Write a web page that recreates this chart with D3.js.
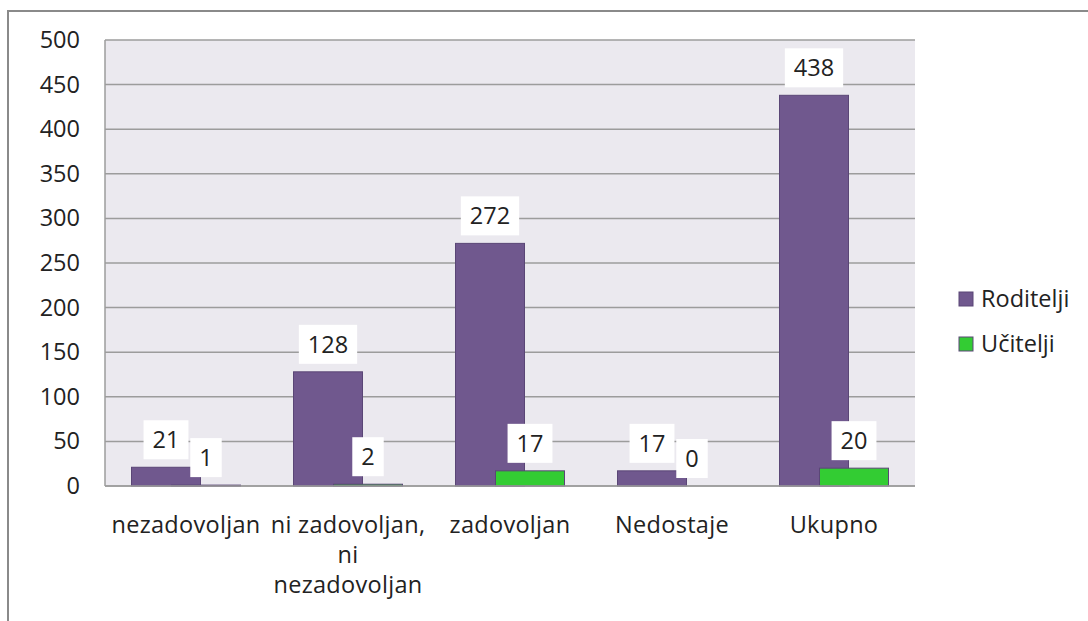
<!DOCTYPE HTML>
<html lang="hr">
    <head>
        <meta charset="UTF-8">
        <style>
            body { margin: 0; background: #fff; }
            text { font-family: "Open Sans", sans-serif; font-size: 23.5px; fill: #222; }
            .grid line { stroke: #9c9c9c; stroke-width: 1.5; }
            .axis path, .axis line { display: none; }
        </style>
    </head>
    <body>
        <script src="https://d3js.org/d3.v7.min.js"></script>
        <script>
            var categories = ['nezadovoljan', 'ni zadovoljan, ni nezadovoljan', 'zadovoljan', 'Nedostaje', 'Ukupno'];
            var catLines = [['nezadovoljan'], ['ni zadovoljan,', 'ni', 'nezadovoljan'], ['zadovoljan'], ['Nedostaje'], ['Ukupno']];
            var series = ['Roditelji', 'Učitelji'];
            var roditelji = [21, 128, 272, 17, 438];
            var ucitelji = [1, 2, 17, 0, 20];
            var yTicks = [0, 50, 100, 150, 200, 250, 300, 350, 400, 450, 500];
            var fills = ['#70588e', '#33cc33'];
            var barStroke = '#5a4676';

            var W = 1088, H = 621;
            var plotL = 105, plotR = 915, plotT = 40, plotB = 486;

            var svg = d3.select('body').append('svg').attr('width', W).attr('height', H);

            // outer frame (top + left only)
            svg.append('path')
                .attr('d', 'M8,' + H + 'V11H' + W)
                .attr('fill', 'none').attr('stroke', '#8a8a8a').attr('stroke-width', 2);

            var x = d3.scaleBand().domain(categories).range([plotL, plotR]);
            var y = d3.scaleLinear().domain([0, 500]).range([plotB, plotT]);
            var off = d3.scalePoint().domain(series).range([-20, 20]);
            var barW = 69;

            svg.append('rect')
                .attr('x', plotL).attr('y', plotT)
                .attr('width', plotR - plotL).attr('height', plotB - plotT)
                .attr('fill', '#ebe9ef');

            svg.append('g').attr('class', 'grid')
                .selectAll('line').data(yTicks).enter()
                .append('line')
                    .attr('x1', plotL).attr('x2', plotR)
                    .attr('y1', function(d){ return y(d) }).attr('y2', function(d){ return y(d) });

            svg.append('line')
                .attr('x1', plotL).attr('x2', plotL).attr('y1', plotT).attr('y2', plotB)
                .attr('stroke', '#9c9c9c').attr('stroke-width', 1.5);

            var yAxis = svg.append('g').attr('class', 'axis')
                .attr('transform', 'translate(' + (plotL - 13) + ',0)')
                .call(d3.axisLeft(y).tickValues(yTicks).tickSize(0).tickPadding(12));
            yAxis.attr('font-family', null).attr('font-size', null);
            yAxis.selectAll('text').attr('fill', '#222');

            var rows = [];
            categories.forEach(function(c, i){
                rows.push({ cat: c, s: 0, v: roditelji[i] });
                rows.push({ cat: c, s: 1, v: ucitelji[i] });
            });

            function cx(d){ return x(d.cat) + x.bandwidth() / 2 + off(series[d.s]); }

            svg.append('g').selectAll('rect')
                .data(rows).enter()
                .append('rect')
                    .attr('x', function(d){ return cx(d) - barW / 2 })
                    .attr('y', function(d){ return y(d.v) })
                    .attr('width', barW)
                    .attr('height', function(d){ return plotB - y(d.v) })
                    .attr('fill', function(d){ return fills[d.s] })
                    .attr('stroke', function(d){ return d.v > 0 ? barStroke : 'none' })
                    .attr('stroke-width', 1);

            svg.append('line')
                .attr('x1', plotL).attr('x2', plotR).attr('y1', plotB).attr('y2', plotB)
                .attr('stroke', '#9c9c9c').attr('stroke-width', 1.5);

            // data labels in white boxes
            var lab = svg.append('g').selectAll('g')
                .data(rows).enter()
                .append('g')
                    .attr('transform', function(d){ return 'translate(' + cx(d) + ',' + (y(d.v) - 27.5) + ')' });
            lab.append('text')
                .attr('text-anchor', 'middle')
                .attr('dy', '0.35em')
                .text(function(d){ return d.v });
            lab.each(function(){
                var g = d3.select(this);
                var bb = g.select('text').node().getBBox();
                g.insert('rect', 'text')
                    .attr('x', bb.x - 9).attr('y', -19.5)
                    .attr('width', bb.width + 18).attr('height', 39)
                    .attr('fill', '#fff');
            });

            // category labels
            svg.append('g').selectAll('text')
                .data(categories).enter()
                .append('text')
                    .attr('text-anchor', 'middle')
                    .attr('x', function(d){ return x(d) + x.bandwidth() / 2 })
                    .attr('y', 533)
                    .style('letter-spacing', '0.3px')
                    .each(function(d, i){
                        var t = d3.select(this);
                        catLines[i].forEach(function(line, j){
                            t.append('tspan')
                                .attr('x', x(d) + x.bandwidth() / 2)
                                .attr('dy', j === 0 ? 0 : 30)
                                .text(line);
                        });
                    });

            // legend
            var leg = svg.append('g').selectAll('g')
                .data(series).enter()
                .append('g')
                    .attr('transform', function(d, i){ return 'translate(959,' + (292 + i * 45) + ')' });
            leg.append('rect')
                .attr('width', 14).attr('height', 14)
                .attr('fill', function(d, i){ return fills[i] })
                .attr('stroke', barStroke);
            leg.append('text')
                .attr('x', 22).attr('y', 7).attr('dy', '0.35em')
                .text(function(d){ return d });
        </script>
    </body>
</html>
